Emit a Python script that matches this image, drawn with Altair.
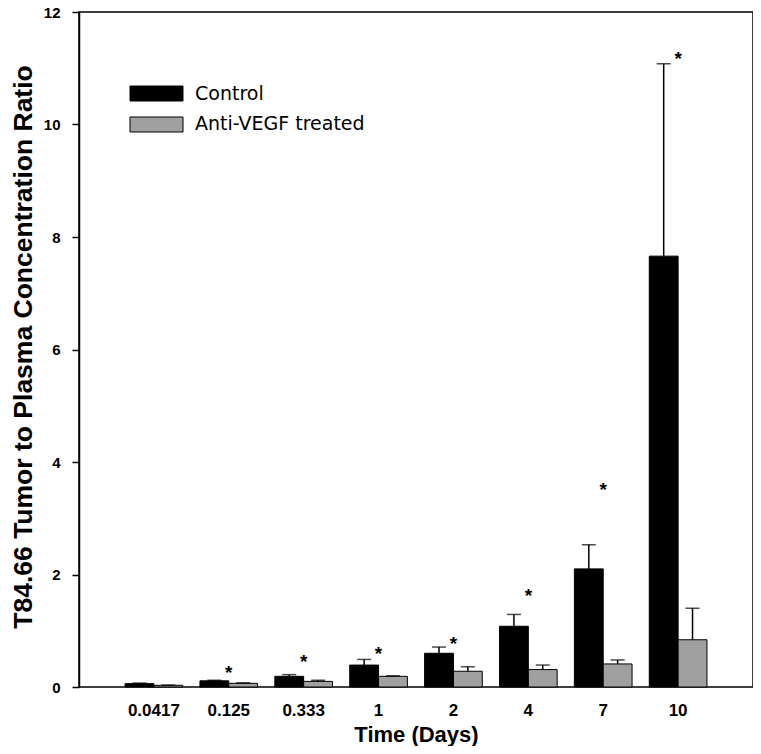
import altair as alt
import pandas as pd

times = ["0.0417", "0.125", "0.333", "1", "2", "4", "7", "10"]
groups = ["Control", "Anti-VEGF treated"]
control = [0.06, 0.11, 0.19, 0.39, 0.60, 1.08, 2.10, 7.66]
control_err = [0.01, 0.01, 0.03, 0.10, 0.11, 0.21, 0.43, 3.42]
anti = [0.03, 0.065, 0.10, 0.19, 0.28, 0.31, 0.41, 0.84]
anti_err = [0.005, 0.01, 0.02, 0.01, 0.08, 0.08, 0.07, 0.56]
star_y = [None, 0.34, 0.53, 0.67, 0.86, 1.70, 3.60, 11.25]
y_ticks = [0, 2, 4, 6, 8, 10, 12]
colors = ["#000000", "#a0a0a0"]

rows = []
for i, t in enumerate(times):
    rows.append({"Time": t, "Group": groups[0], "Value": control[i], "Upper": control[i] + control_err[i]})
    rows.append({"Time": t, "Group": groups[1], "Value": anti[i], "Upper": anti[i] + anti_err[i]})
df = pd.DataFrame(rows)
stars = pd.DataFrame({"Time": times, "Star": star_y}).dropna()
legend_df = pd.DataFrame({"Group": groups})

BOLD = "Liberation Sans"

x_enc = alt.X("Time:N", sort=times,
              scale=alt.Scale(paddingInner=0.23, paddingOuter=0.615),
              axis=alt.Axis(title="Time (Days)", ticks=False, tickSize=0, domain=False,
                            labelAngle=0, labelFont=BOLD, labelFontWeight="bold",
                            labelFontSize=17, labelColor="black", labelPadding=15,
                            titleFont=BOLD, titleFontWeight="bold", titleFontSize=22,
                            titleColor="black", titleY=54, titleBaseline="alphabetic"))
y_scale = alt.Scale(domain=[0, 12], nice=False, zero=True)
y_enc = alt.Y("Value:Q", scale=y_scale,
              axis=alt.Axis(title="T84.66 Tumor to  Plasma Concentration Ratio",
                            values=y_ticks, format="d", grid=False, tickSize=7, tickColor="black",
                            tickWidth=1.5, domainColor="black", domainWidth=1.5,
                            labelFont=BOLD, labelFontWeight="bold", labelFontSize=15,
                            labelColor="black", labelPadding=12,
                            titleFont=BOLD, titleFontWeight="bold", titleFontSize=26.5,
                            titleColor="black", titleX=-48, titleY=334.5,
                            titleBaseline="alphabetic"))
xoff = alt.XOffset("Group:N", sort=groups)
color = alt.Color("Group:N", sort=groups, scale=alt.Scale(domain=groups, range=colors), legend=None)

bars = alt.Chart(df).mark_bar(stroke="black", strokeWidth=1).encode(
    x=x_enc, xOffset=xoff, y=y_enc, color=color)

err = alt.Chart(df).mark_rule(color="black", strokeWidth=1.5).encode(
    x=alt.X("Time:N", sort=times), xOffset=xoff,
    y=alt.Y("Value:Q", scale=y_scale), y2="Upper:Q")

caps = alt.Chart(df).mark_tick(color="black", size=14, thickness=1.5).encode(
    x=alt.X("Time:N", sort=times), xOffset=xoff,
    y=alt.Y("Upper:Q", scale=y_scale))

star_marks = alt.Chart(stars).mark_text(text="*", font=BOLD, fontWeight="bold",
                                        fontSize=19, baseline="middle", dy=5, color="black").encode(
    x=alt.X("Time:N", sort=times), y=alt.Y("Star:Q", scale=y_scale))

leg_y = alt.Y("Group:N", sort=groups,
              scale=alt.Scale(range=[74, 120], paddingInner=0.516, paddingOuter=0), axis=None)

leg_rect = alt.Chart(legend_df).mark_bar(stroke="black", strokeWidth=1).encode(
    x=alt.value(51), x2=alt.value(104), y=leg_y, color=color)

leg_text = alt.Chart(legend_df).mark_text(align="left", baseline="middle", font="DejaVu Sans",
                                          fontSize=19, color="black").encode(
    x=alt.value(116), y=leg_y, text="Group:N")

chart = alt.layer(bars, err, caps, star_marks)
legend = alt.layer(leg_rect, leg_text)
full = alt.layer(chart, legend).resolve_scale(y="independent").properties(
    width=674, height=675,
    autosize=alt.AutoSizeParams(type="none"),
    padding={"left": 71, "top": 4, "right": 0, "bottom": 59},
).configure_view(stroke="black", strokeWidth=1.5).configure_axis(grid=False)

full.save("out.html", embed_options={"renderer": "svg", "actions": False})
